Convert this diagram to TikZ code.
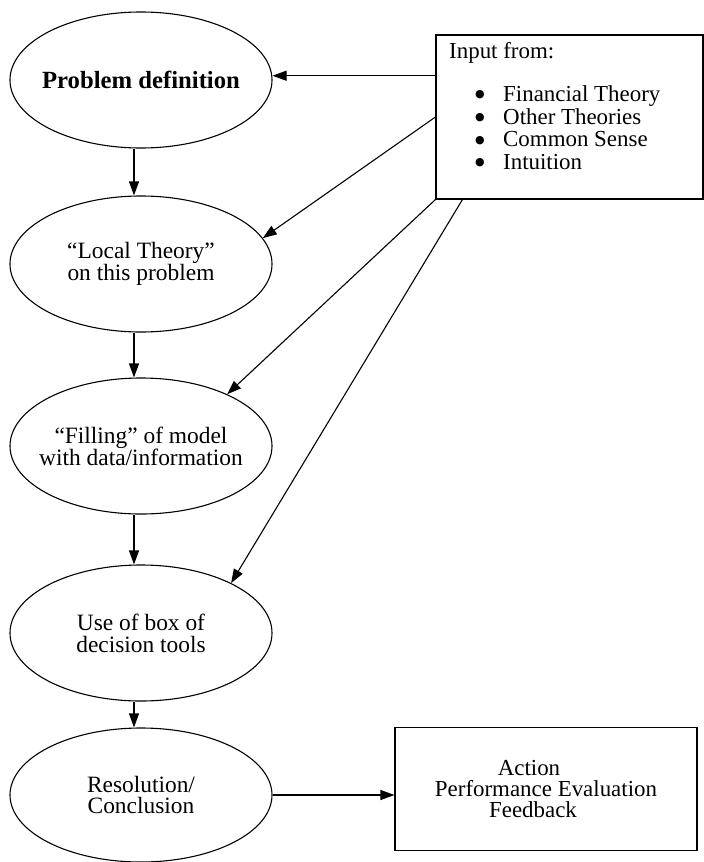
\documentclass[tikz,border=0pt]{standalone}
\usepackage{fontspec}
\setmainfont{Liberation Serif}
\newfontfamily\symfont{DejaVu Sans}
\usetikzlibrary{shapes.geometric,arrows.meta,calc}
\begin{document}
\begin{tikzpicture}[x=1bp,y=-1bp,
  txt/.style={font=\fontsize{23}{22}\selectfont},
  ell/.style={draw,ellipse,minimum width=262bp,minimum height=136bp,inner xsep=-25bp,inner ysep=0pt,align=center,line width=1.1bp,font=\fontsize{23.5}{22}\selectfont},
  rbox/.style={draw,rectangle,inner sep=0pt,line width=1.1bp,txt},
  lbl/.style={anchor=base west,inner sep=0pt,txt},
  bul/.style={anchor=center,inner sep=0pt,font=\symfont\fontsize{11}{11}\selectfont},
  arr/.style={line width=1.1bp,-{Triangle[length=14bp,width=10bp]}},
]
\useasboundingbox (0,0) rectangle (704,862);
% ellipses
\node[ell,font=\fontsize{24.8}{22}\selectfont\bfseries] (pd) at (141,80) {Problem definition};
\node[ell] (lt) at (141,264) {“Local Theory”\\on this problem};
\node[ell] (fl) at (141,446) {“Filling” of model\\with data/information};
\node[ell] (us) at (141,633) {Use of box of\\decision tools};
\node[ell,minimum height=134bp] (rs) at (141,795) {Resolution/\\Conclusion};
% input box
\node[rbox,minimum width=267bp,minimum height=164bp] (inp) at (569.5,117) {};
\node[lbl] (ih) at (449,58) {Input from:};
\node[bul] (k1) at (480,95) {●};
\node[lbl] (t1) at (503,101) {Financial Theory};
\node[bul] (k2) at (480,118) {●};
\node[lbl] (t2) at (503,124) {Other Theories};
\node[bul] (k3) at (480,140.5) {●};
\node[lbl] (t3) at (503,146.5) {Common Sense};
\node[bul] (k4) at (480,163) {●};
\node[lbl] (t4) at (503,169) {Intuition};
% action box
\node[rbox,minimum width=302bp,minimum height=123bp,align=center,font=\fontsize{23}{21.5}\selectfont] (act) at (546,789)
  {Action\rule{34bp}{0pt}\\Performance Evaluation\\Feedback\rule{26bp}{0pt}};
% connectors
\coordinate (p1) at ($(inp.north west)!0.25!(inp.south west)$);
\coordinate (p4) at ($(inp.south west)+(27,0)$);
\draw[arr] (p1) -- (p1 -| pd.east);
\draw[arr] (inp.west) -- (lt.12.5);
\draw[arr] (inp.south west) -- (fl.31);
\draw[arr] (p4) -- (us.29);
\draw[arr] ([xshift=-7bp]pd.south) -- ([xshift=-7bp]lt.north);
\draw[arr] ([xshift=-7bp]lt.south) -- ([xshift=-7bp]fl.north);
\draw[arr] ([xshift=-7bp]fl.south) -- ([xshift=-7bp]us.north);
\draw[arr] ([xshift=-7bp]us.south) -- ([xshift=-7bp]rs.north);
\draw[arr] (rs.east) -- (rs.east -| act.west);
\end{tikzpicture}
\end{document}
